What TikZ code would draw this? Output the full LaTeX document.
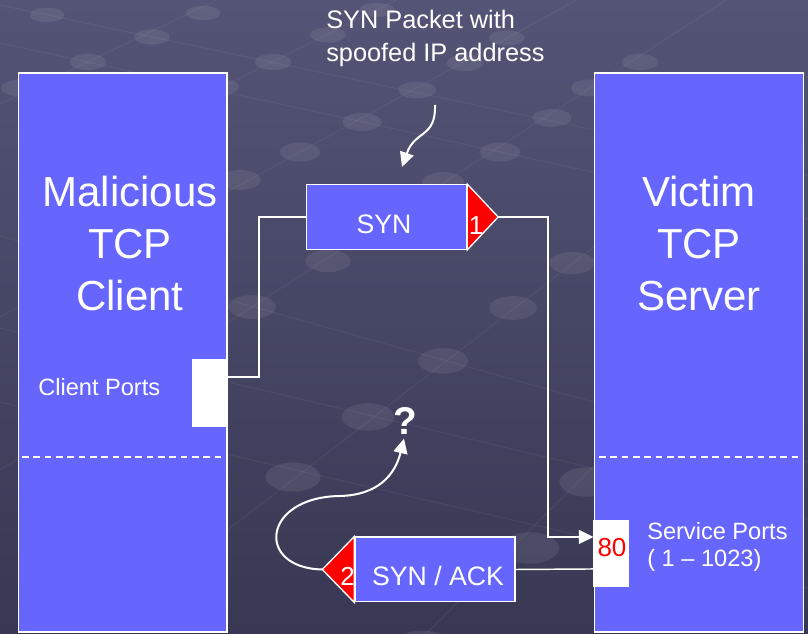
\documentclass[tikz,border=0pt]{standalone}
\usepackage{fontspec}
\setmainfont{Liberation Sans}
\usetikzlibrary{arrows.meta,calc}

\definecolor{slatetop}{RGB}{84,84,118}
\definecolor{slatebot}{RGB}{56,56,84}
\definecolor{hostblue}{RGB}{102,102,255}

\tikzset{
  host/.style={draw=white, line width=1pt, fill=hostblue, inner sep=0pt,
    minimum width=156.5pt, minimum height=419.25pt},
  port/.style={draw=white, line width=0.8pt, fill=white, inner sep=0pt},
  pkt/.style={draw=white, line width=1pt, fill=hostblue, inner sep=0pt,
    minimum width=120pt, minimum height=48.5pt},
  flag/.style={draw=white, line width=1pt, fill=red, line join=miter},
  link/.style={white, line width=1.1pt},
  curvelink/.style={white, line width=1.5pt},
  headtip/.style={-{Triangle[length=11pt,width=10.5pt]}},
  divider/.style={white, line width=0.9pt, dash pattern=on 5pt off 3.5pt},
  hosttext/.style={text=white, inner sep=0pt, align=center,
    font=\fontsize{31.5}{39}\selectfont},
  porttext/.style={text=white, inner sep=0pt, font=\fontsize{17.7}{20.25}\selectfont},
  pkttext/.style={text=white, inner sep=0pt, font=\fontsize{20}{24}\selectfont},
  flagtext/.style={text=white, inner sep=0pt, font=\fontsize{19.5}{24}\selectfont},
  redtext/.style={text=red, inner sep=0pt, font=\fontsize{19.5}{24}\selectfont},
  notetext/.style={text=white, inner sep=0pt, align=left, font=\fontsize{19}{24.75}\selectfont},
  qtext/.style={text=white, inner sep=0pt, font=\fontsize{29}{32}\selectfont\bfseries},
  gridline/.style={white, opacity=0.05, line width=0.8pt},
  dot/.style={white, opacity=0.08},
}

\begin{document}
\begin{tikzpicture}[x=0.75pt,y=0.75pt,yscale=-1,xscale=1]
\useasboundingbox (0,0) rectangle (808,634);

% slate backdrop
\shade [top color=slatetop, bottom color=slatebot] (0,0) rectangle (808,634);
\foreach \ax/\ay/\bx/\by in {150/590/700/165, 0/470/808/-53, 0/317/620/-24,
    0/104/240/-11, 200/98/400/-2, 400/660/700/360,
    0/5/808/175, 0/43/808/219, 0/236/808/462, 0/328/808/519, 0/402/808/588}
  \draw [gridline] (\ax,\ay) -- (\bx,\by);
\foreach \px/\py in {47/15, 203/13, 152/37, 88/62, 273/62, 328/35, 377/10,
    220/87, 20/88, 417/90, 465/63, 507/38, 362/122, 300/152, 552/118,
    500/152, 590/88, 240/180, 443/182, 640/62, 328/261, 252/307, 513/308,
    572/263, 443/361, 368/417, 293/477, 587/482, 530/548, 423/648}
{
  \pgfmathsetmacro\rx{17+0.022*\py}
  \pgfmathsetmacro\ry{7+0.016*\py}
  \fill [dot] (\px,\py) ellipse [x radius=\rx, y radius=\ry];
}

% client and server hosts
\node [host] (client) at (122.5,352.5) {};
\node [host] (server) at (699,352.5) {};
\draw [divider] (22,457) -- (222,457);
\draw [divider] (599,457) -- (799,457);

\node [hosttext] (clientname) at (130,243) {Malicious\\TCP\\Client};
\node [hosttext] (servername) at (699,243) {Victim\\TCP\\Server};

% ports
\node [port, minimum width=24.75pt, minimum height=49.5pt] (cport) at (209.5,393) {};
\node [porttext, anchor=west] (clientports) at (38,387) {Client Ports};
\node [port, minimum width=25.5pt, minimum height=48.75pt] (sport) at (611,553.5) {};
\node [redtext] (portnum) at (612,548) {80};
\node [porttext, anchor=west, align=left] (serviceports) at (647,547) {Service Ports\\( 1 – 1023)};

% SYN packet
\node [pkt] (syn) at (386.5,217) {};
\node [pkttext] (synlabel) at (384,224) {SYN};
\draw [flag] (syn.north east) -- ($(syn.east)+(31,0)$) coordinate (tip1) -- (syn.south east) -- cycle;
\node [flagtext] (stepone) at (476,226) {1};

% SYN / ACK packet
\node [pkt] (synack) at (435,569.5) {};
\node [pkttext] (synacklabel) at (438,576) {SYN / ACK};
\draw [flag] (synack.north west) -- ($(synack.west)+(-32,0)$) coordinate (tip2) -- (synack.south west) -- cycle;
\node [flagtext] (steptwo) at (347.5,576) {2};

% wires (yshift runs downwards here, since yscale=-1)
\draw [link] (syn.west) -- ++(-47,0) |- ([yshift=-12pt]cport.east);
\draw [link, headtip] (tip1) -- ++(50,0) |- ([yshift=-12.4pt]sport.west);
\draw [link] ([yshift=11.6pt]sport.west) -- (synack.east);

% note on the spoofed address
\node [notetext, anchor=north west] (spoofnote) at (326,10) {SYN Packet with\\spoofed IP address};
\coordinate (notefrom) at (435,105);
\coordinate (noteto) at (402,167);
\draw [curvelink, headtip] (notefrom) .. controls (436,138) and (415,130) .. (noteto);

% reply goes nowhere
\node [qtext] (unknown) at (405,421) {?};
\draw [curvelink, headtip, shorten >=3pt] (tip2) .. controls (255,568) and (262,497) .. (340,496)
  .. controls (378,495) and (395,475) .. (unknown.south);

\end{tikzpicture}
\end{document}
